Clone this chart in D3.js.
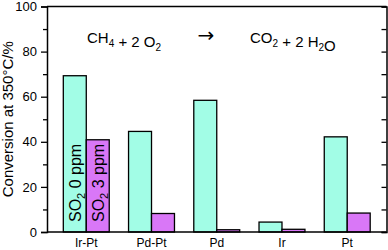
<!DOCTYPE html>
<html>
<head>
<meta charset="utf-8">
<script src="https://cdn.jsdelivr.net/npm/d3@7"></script>
<style>
  body { margin: 0; background: #fff; }
  svg, svg text, svg tspan { font-family: "Liberation Sans", Arial, Helvetica, sans-serif; fill: #000; }
</style>
</head>
<body>
<div id="chart"></div>
<script>
// datos
const catalysts = ["Ir-Pt", "Pd-Pt", "Pd", "Ir", "Pt"];
const series = ["so2_0", "so2_3"];
const so2_0 = [69.3, 44.6, 58.4, 4.4, 42.2];
const so2_3 = [40.9, 8.2, 1.0, 1.2, 8.4];
const yTicks = [0, 20, 40, 60, 80, 100];

const width = 388, height = 250;
const margin = { top: 6.5, right: 1.5, bottom: 18, left: 47 };

const svg = d3.select("#chart").append("svg")
    .attr("width", width)
    .attr("height", height);

const x0 = d3.scaleBand()
    .domain(catalysts)
    .range([margin.left, width - margin.right])
    .paddingInner(0.296)
    .paddingOuter(0.25);

const x1 = d3.scaleBand()
    .domain(series)
    .range([0, x0.bandwidth()]);

const y = d3.scaleLinear()
    .domain([0, 100])
    .range([232, margin.top]);

const colors = { so2_0: "#a2fde6", so2_3: "#d977f7" };
const values = { so2_0: so2_0, so2_3: so2_3 };

// barras
series.forEach(s => {
    svg.append("g").selectAll("rect")
        .data(catalysts)
        .join("rect")
        .attr("x", d => x0(d) + x1(s))
        .attr("y", (d, i) => y(values[s][i]))
        .attr("width", x1.bandwidth())
        .attr("height", (d, i) => y(0) - y(values[s][i]))
        .attr("fill", colors[s])
        .attr("stroke", "#000")
        .attr("stroke-width", 1.3);
});

// etiquetas dentro de las barras Ir-Pt
const inner = [["so2_0", "0"], ["so2_3", "3"]];
inner.forEach(([s, ppm]) => {
    const cx = x0("Ir-Pt") + x1(s) + x1.bandwidth() / 2;
    const t = svg.append("text")
        .attr("transform", `translate(${cx + 5.8},222) rotate(-90)`)
        .attr("font-size", "16px");
    t.append("tspan").text("SO");
    t.append("tspan").attr("font-size", "11px").attr("dy", 4).text("2");
    t.append("tspan").attr("dy", -4).text(" " + ppm + " ppm");
});

// marco
svg.append("line")
    .attr("x1", margin.left).attr("x2", width - margin.right)
    .attr("y1", margin.top).attr("y2", margin.top)
    .attr("stroke", "#000").attr("stroke-width", 1.5);
svg.append("line")
    .attr("x1", margin.left).attr("x2", width - margin.right)
    .attr("y1", y(0)).attr("y2", y(0))
    .attr("stroke", "#000").attr("stroke-width", 1.5);

// eje izquierdo
const yAxis = svg.append("g")
    .attr("transform", `translate(${margin.left},0)`)
    .call(d3.axisLeft(y).tickValues(yTicks).tickSize(6).tickPadding(4));
yAxis.attr("font-family", null);
yAxis.selectAll("text").attr("font-size", "13px");
yAxis.select(".domain").attr("stroke-width", 1.5);
yAxis.selectAll(".tick line").attr("stroke-width", 1.3);

const yMinor = svg.append("g")
    .attr("transform", `translate(${margin.left},0)`)
    .call(d3.axisLeft(y).tickValues([10, 30, 50, 70, 90]).tickSize(4).tickFormat(""));
yMinor.select(".domain").remove();
yMinor.selectAll(".tick line").attr("stroke-width", 1.3);

// eje derecho, marcas hacia dentro
const yRight = svg.append("g")
    .attr("transform", `translate(${width - margin.right},0)`)
    .call(d3.axisRight(y).ticks(10).tickSize(-5).tickFormat(""));
yRight.select(".domain").attr("stroke-width", 1.5);
yRight.selectAll(".tick line").attr("stroke-width", 1.3);

// etiquetas del eje x
svg.append("g").selectAll("text")
    .data(catalysts)
    .join("text")
    .attr("x", d => x0(d) + x0.bandwidth() / 2)
    .attr("y", 247)
    .attr("text-anchor", "middle")
    .attr("font-size", "12px")
    .text(d => d);

// título del eje y
svg.append("text")
    .attr("transform", `translate(13,${(y(0) + y(100)) / 2}) rotate(-90)`)
    .attr("text-anchor", "middle")
    .attr("font-size", "15px")
    .text("Conversion at 350°C/%");

// ecuación
function formula(xPos, parts) {
    const t = svg.append("text")
        .attr("x", xPos)
        .attr("y", 43)
        .attr("font-size", "15px");
    parts.forEach(([txt, sub]) => {
        t.append("tspan").text(txt);
        if (sub) {
            t.append("tspan").attr("font-size", "10px").attr("dy", 4).text(sub);
            t.append("tspan").attr("dy", -4).text("");
        }
    });
}
formula(87, [["CH", "4"], [" + 2 O", "2"]]);
svg.append("text")
    .attr("x", 206).attr("y", 42)
    .attr("text-anchor", "middle")
    .attr("font-size", "20px")
    .style("font-family", "'DejaVu Sans', sans-serif")
    .text("→");
formula(250, [["CO", "2"], [" + 2 H", "2"], ["O", ""]]);
</script>
</body>
</html>
